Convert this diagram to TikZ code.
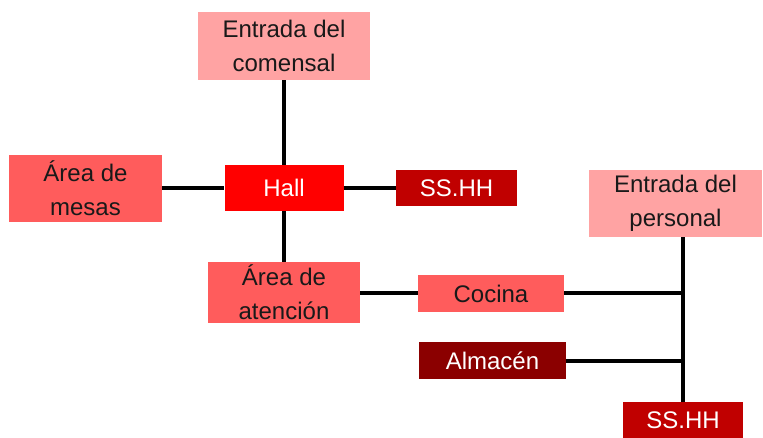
\documentclass[tikz,border=0pt]{standalone}
\usepackage{fontspec}
\setmainfont{Liberation Sans}
\definecolor{lightp}{RGB}{255,163,163}
\definecolor{midr}{RGB}{255,92,92}
\definecolor{hallr}{RGB}{255,0,0}
\definecolor{ssr}{RGB}{192,0,0}
\definecolor{darkr}{RGB}{139,0,0}
\definecolor{txt}{RGB}{25,25,25}
\tikzset{
  box/.style={rectangle, inner sep=0pt, align=center, text=txt,
    font=\fontsize{24}{34}\selectfont},
  link/.style={line width=4pt, black}
}
\begin{document}
\begin{tikzpicture}[x=1pt,y=-1pt]
\useasboundingbox (0,0) rectangle (763,438);
\node[box, fill=lightp, minimum width=172pt, minimum height=68pt] (entc) at (284,46) {Entrada del\\comensal};
\node[box, fill=midr, minimum width=153pt, minimum height=67pt] (mesas) at (85.5,188.5) {Área de\\mesas};
\node[box, fill=hallr, text=white, minimum width=119pt, minimum height=46pt] (hall) at (284,188) {Hall};
\node[box, fill=ssr, text=white, minimum width=121pt, minimum height=36pt] (ssa) at (456.5,188) {SS.HH};
\node[box, fill=lightp, minimum width=173pt, minimum height=67pt] (entp) at (675.5,203.5) {Entrada del\\personal};
\node[box, fill=midr, minimum width=152pt, minimum height=61pt] (aten) at (284,292.5) {Área de\\atención};
\node[box, fill=midr, minimum width=146pt, minimum height=37pt] (cocina) at (491,293.5) {Cocina};
\node[box, fill=darkr, text=white, minimum width=147pt, minimum height=37pt] (alm) at (492.5,360.5) {Almacén};
\node[box, fill=ssr, text=white, minimum width=120pt, minimum height=36pt] (ssb) at (683,420) {SS.HH};
\coordinate (jc) at (683,293.5);
\coordinate (ja) at (683,360.5);
\draw[link] (entc.south) -- (hall.north);
\draw[link] (hall.south) -- (aten.north);
\draw[link] (mesas.east |- hall.west) -- (hall.west);
\draw[link] (hall.east) -- (ssa.west);
\draw[link] (aten.east |- cocina.west) -- (cocina.west);
\draw[link] ([xshift=7.5pt]entp.south) -- (ssb.north);
\draw[link] (cocina.east) -- (jc);
\draw[link] (alm.east) -- (ja);
\end{tikzpicture}
\end{document}
